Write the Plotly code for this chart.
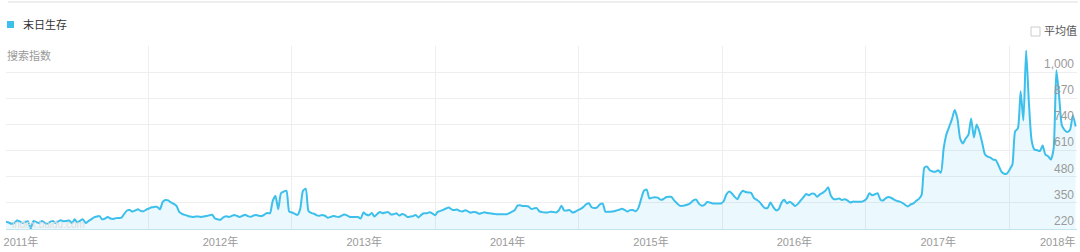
import plotly.graph_objects as go
import pandas as pd

# ---------------- data ----------------
series_name = "末日生存"
start_date = "2010-07-04"          # first weekly point
freq = "7D"

# weekly Baidu search index values
index_values = [
    256, 252, 246, 250, 262, 258, 250, 255, 258, 222,
    260, 254, 250, 260, 252, 245, 255, 260, 250, 258,
    263, 258, 260, 262, 250, 268, 252, 262, 268, 250,
    260, 268, 278, 282, 284, 268, 272, 280, 272, 270,
    274, 275, 276, 295, 312, 314, 307, 312, 318, 310,
    308, 316, 322, 328, 330, 330, 318, 355, 364, 362,
    352, 345, 335, 305, 295, 290, 286, 282, 280, 282,
    282, 280, 282, 285, 288, 291, 272, 268, 266, 278,
    284, 280, 284, 290, 285, 280, 286, 291, 284, 281,
    287, 289, 286, 285, 292, 300, 298, 360, 384, 318,
    398, 406, 410, 306, 302, 296, 290, 320, 410, 420,
    310, 300, 296, 288, 286, 290, 286, 276, 280, 285,
    282, 280, 286, 292, 288, 280, 280, 280, 280, 272,
    302, 292, 288, 300, 282, 295, 304, 298, 302, 304,
    292, 294, 298, 287, 294, 290, 280, 282, 284, 290,
    277, 290, 298, 298, 303, 298, 288, 305, 310, 315,
    322, 327, 318, 314, 317, 310, 307, 313, 308, 301,
    305, 303, 296, 299, 303, 300, 298, 296, 294, 293,
    293, 293, 293, 299, 306, 313, 336, 338, 334, 334,
    332, 320, 322, 324, 308, 304, 302, 302, 306, 305,
    302, 312, 336, 312, 312, 314, 302, 306, 314, 320,
    330, 343, 348, 328, 324, 328, 342, 346, 306, 306,
    306, 308, 312, 316, 321, 315, 307, 314, 314, 308,
    325, 370, 410, 416, 372, 376, 378, 376, 366, 368,
    378, 380, 380, 362, 348, 336, 335, 338, 342, 350,
    362, 366, 346, 336, 340, 354, 352, 347, 347, 347,
    347, 358, 392, 406, 397, 380, 368, 395, 410, 404,
    401, 400, 374, 365, 355, 338, 324, 325, 352, 330,
    313, 318, 350, 365, 348, 355, 346, 334, 345, 362,
    378, 394, 388, 396, 395, 380, 392, 400, 410, 428,
    385, 369, 368, 372, 364, 368, 362, 352, 356, 356,
    356, 356, 360, 371, 398, 388, 392, 398, 366, 362,
    374, 379, 374, 366, 360, 356, 350, 340, 332, 342,
    347, 360, 370, 390, 525, 530, 512, 506, 505, 512,
    500, 620, 690, 728, 765, 812, 770, 670, 645, 670,
    688, 770, 675, 740, 705, 650, 592, 580, 575, 565,
    562, 535, 505, 495, 495, 515, 540, 705, 720, 905,
    760, 1108, 850, 660, 615, 612, 608, 635, 590, 582,
    566, 620, 1010, 880, 735, 712, 702, 715, 786, 730,
]

y_tick_values = [220, 350, 480, 610, 740, 870, 1000, 1130]
y_tick_labels = ["220", "350", "480", "610", "740", "870", "1,000", ""]

year_tick_dates = ["2010-08-11", "2012-01-01", "2013-01-01", "2014-01-01",
                   "2015-01-01", "2016-01-01", "2017-01-01"]
year_tick_labels = ["2011年", "2012年", "2013年", "2014年",
                    "2015年", "2016年", "2017年"]
last_year_label = "2018年"          # drawn at the right edge of the axis
last_year_date = "2017-11-02"
grid_dates = ["2011-07-01", "2012-07-01", "2013-07-01", "2014-07-01",
              "2015-07-01", "2016-07-01", "2017-07-01"]
x_range = ["2010-07-04", "2017-12-20 12:00"]
y_range = [220, 1130]

dates = pd.date_range(start_date, periods=len(index_values), freq=freq)

# ---------------- style ----------------
LINE = "#3dbfec"
FILL = "rgba(61,191,236,0.10)"
GRID = "#eeeeee"
LABEL = "#9a9a9a"
FONT = "Liberation Sans, Noto Sans CJK SC, sans-serif"

W, H = 1080, 252
ML, MR, MT, MB = 6, 3, 46, 23
PW, PH = W - ML - MR, H - MT - MB


def px_x(p):
    return (p - ML) / PW


def px_y(p):
    return (H - MB - p) / PH


fig = go.Figure()
fig.add_trace(go.Scatter(
    x=dates, y=index_values, mode="lines", name=series_name,
    line=dict(color=LINE, width=2, shape="spline", smoothing=0.6),
    fill="tozeroy", fillcolor=FILL, showlegend=False,
    hoverinfo="x+y",
))

fig.update_layout(
    width=W, height=H,
    margin=dict(l=ML, r=MR, t=MT, b=MB, pad=0),
    paper_bgcolor="white", plot_bgcolor="white",
    font=dict(family=FONT, color=LABEL, size=12),
    showlegend=False,
    xaxis=dict(
        type="date", range=x_range,
        tickmode="array", tickvals=year_tick_dates, ticktext=year_tick_labels,
        showgrid=False, zeroline=False, ticks="",
        tickfont=dict(size=11, color=LABEL, family=FONT),
        ticklabeloverflow="allow", ticklabelstandoff=3,
        showline=True, linecolor="#c3e4f0", linewidth=1,
        minor=dict(tickmode="array", tickvals=grid_dates, showgrid=True,
                   gridcolor=GRID, gridwidth=1, ticks=""),
        fixedrange=True,
    ),
    yaxis=dict(
        range=y_range, side="right",
        tickmode="array", tickvals=y_tick_values, ticktext=y_tick_labels,
        ticklabelposition="inside top",
        showgrid=True, gridcolor=GRID, gridwidth=1,
        zeroline=False, ticks="", showline=False,
        tickfont=dict(size=12, color=LABEL, family=FONT),
        fixedrange=True,
    ),
)

# last year label, pinned to the axis end like in the source chart
fig.add_annotation(xref="x", yref="paper", x=last_year_date, y=px_y(241.5),
                   text=last_year_label, showarrow=False, xanchor="center",
                   yanchor="middle", font=dict(size=11, color=LABEL, family=FONT))

# top separator line of the card
fig.add_shape(type="line", xref="paper", yref="paper",
              x0=px_x(8), x1=px_x(1078), y0=px_y(2), y1=px_y(2),
              line=dict(color="#eeeeee", width=2))

# legend: coloured square + series name
fig.add_shape(type="rect", xref="paper", yref="paper",
              x0=px_x(7), x1=px_x(14), y0=px_y(28), y1=px_y(21),
              fillcolor=LINE, line=dict(width=0))
fig.add_annotation(xref="paper", yref="paper", x=px_x(21), y=px_y(24.5),
                   text=series_name, showarrow=False, xanchor="left",
                   yanchor="middle", font=dict(size=11, color="#333333", family=FONT))

# "平均值" checkbox
fig.add_shape(type="rect", xref="paper", yref="paper",
              x0=px_x(1031), x1=px_x(1040), y0=px_y(36), y1=px_y(27),
              fillcolor="white", line=dict(color="#cccccc", width=1))
fig.add_annotation(xref="paper", yref="paper", x=px_x(1042), y=px_y(31),
                   text="平均值", showarrow=False, xanchor="left",
                   yanchor="middle", font=dict(size=11, color="#555555", family=FONT))

# y-axis title
fig.add_annotation(xref="paper", yref="paper", x=px_x(5), y=px_y(55),
                   text="搜索指数", showarrow=False, xanchor="left",
                   yanchor="middle", font=dict(size=11, color=LABEL, family=FONT))

# faint watermark
fig.add_annotation(xref="paper", yref="paper", x=px_x(10), y=px_y(224),
                   text="index.baidu.com", showarrow=False, xanchor="left",
                   yanchor="middle", font=dict(size=10, color="#dddddd", family=FONT))

fig.write_html("out.html")
